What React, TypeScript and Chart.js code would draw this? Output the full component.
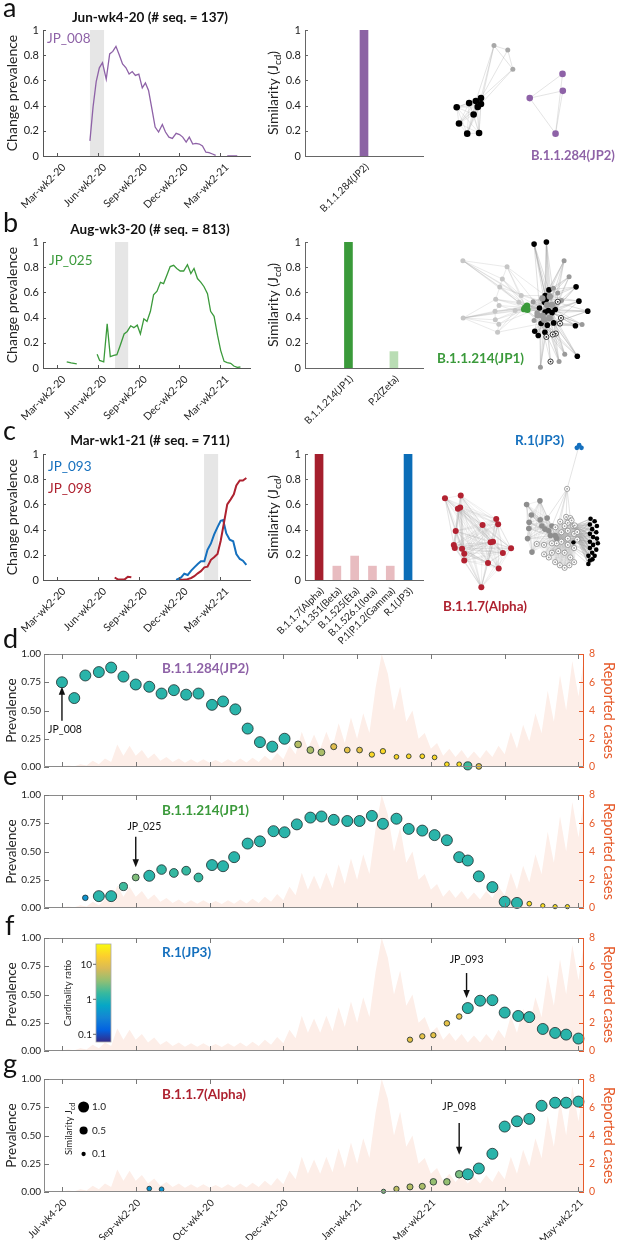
import React, { useEffect, useRef } from "react";
import { Chart, registerables } from "chart.js";

Chart.register(...registerables);

const FONT = "Lato, 'Open Sans', 'DejaVu Sans', sans-serif";
Chart.defaults.font.family = FONT;
Chart.defaults.color = "#222";

const PURPLE = "#8E62A7";
const GREEN = "#3B9A3B";
const BLUE = "#1570BE";
const RED = "#AE2230";
const ORANGE = "#E65A2A";
const CASE_FILL = "#FDEEE8";

// ---------------- panels a-c : change prevalence ----------------
const LINE_TICK_WEEKS = [0, 13, 26, 39, 52];
const LINE_TICK_LABELS = ["Mar-wk2-20", "Jun-wk2-20", "Sep-wk2-20", "Dec-wk2-20", "Mar-wk2-21"];
const LINE_X_MIN = -4.47;
const LINE_X_MAX = 61.56;

const A_WEEKS = [10.5, 11.5, 12.5, 13.5, 14.5, 15.7, 16.8, 17.8, 18.8, 19.9, 20.9, 22, 23, 24, 25, 26.1, 27.2, 28.2, 29.2, 30.3, 31.3, 32.4, 33.6, 34.6, 35.7, 36.8, 38, 39.1, 40.1, 41.2, 42.2, 43.3, 44.3, 45.4, 46.4, 47.5, 48.5, 49.6, 50.6, 52.5, 54.3, 55.5, 57.5];
const A_JP008 = [0.12, 0.39, 0.59, 0.7, 0.74, 0.61, 0.81, 0.83, 0.87, 0.8, 0.73, 0.7, 0.65, 0.67, 0.64, 0.65, 0.54, 0.58, 0.52, 0.37, 0.23, 0.19, 0.25, 0.19, 0.15, 0.14, 0.18, 0.17, 0.15, 0.11, 0.15, 0.095, 0.1, 0.095, 0.08, 0.03, 0.026, 0.016, 0.005, null, 0, 0, 0];
const A_BAND = [10.5, 15.0];

const B_WEEKS = [3.1, 4.5, 6.3, 9.5, 12.8, 13.6, 14.9, 16, 17, 18.1, 19.1, 20.1, 21.4, 22.4, 23.5, 24.5, 25.6, 26.6, 27.7, 28.7, 29.8, 30.8, 31.9, 33, 34, 35.1, 36.1, 37.2, 38.2, 39.3, 40.4, 41.6, 42.7, 43.7, 44.8, 45.9, 46.9, 48, 49, 50.1, 51.2, 52.2, 53.3, 54.3, 55.4, 56.4, 57.5, 58.5];
const B_JP025 = [0.048, 0.04, 0.032, null, 0.11, 0.06, 0.048, 0.35, 0.09, 0.1, 0.106, 0.175, 0.27, 0.29, 0.335, 0.32, 0.34, 0.27, 0.39, 0.37, 0.45, 0.58, 0.61, 0.68, 0.67, 0.74, 0.805, 0.815, 0.79, 0.77, 0.77, 0.82, 0.75, 0.79, 0.71, 0.68, 0.645, 0.59, 0.45, 0.41, 0.26, 0.14, 0.053, 0.043, 0.037, 0.016, 0.005, 0.008];
const B_BAND = [18.5, 22.7];

const C093_WEEKS = [38, 39.6, 40.6, 41.7, 42.8, 43.8, 44.9, 45.9, 47, 48, 49.1, 50.1, 51.2, 52.2, 53, 54, 55.1, 56.2, 57.2, 58.3, 59.3, 60.4];
const C_JP093 = [0, 0.02, 0.05, 0.04, 0.074, 0.1, 0.127, 0.148, 0.148, 0.24, 0.29, 0.36, 0.42, 0.47, 0.476, 0.37, 0.32, 0.307, 0.206, 0.167, 0.153, 0.12];
const C098_WEEKS = [18.4, 19.5, 20.5, 21.6, 22.6, 23.7, 30, 39, 41.2, 42.8, 43.8, 44.9, 45.9, 47, 48, 49.1, 50.1, 51.2, 52.2, 53.3, 54.3, 55.4, 56.4, 57.2, 58.3, 59.3, 60.4];
const C_JP098 = [0.02, 0.003, 0.003, 0.005, 0.026, 0.021, null, 0, 0.003, 0.016, 0.03, 0.053, 0.07, 0.1, 0.106, 0.16, 0.18, 0.206, 0.31, 0.46, 0.6, 0.64, 0.68, 0.75, 0.79, 0.79, 0.81];
const C_BAND = [46.9, 51.4];

// ---------------- similarity bars ----------------
const A_BAR_LABELS = ["B.1.1.284(JP2)"];
const A_BAR_VALUES = [1];
const A_BAR_COLORS = ["#8C63A4"];
const B_BAR_LABELS = ["B.1.1.214(JP1)", "P.2(Zeta)"];
const B_BAR_VALUES = [1, 0.13];
const B_BAR_COLORS = ["#3A9A3A", "#B9DDB4"];
const C_BAR_LABELS = ["B.1.1.7(Alpha)", "B.1.351(Beta)", "B.1.525(Eta)", "B.1.526.1(Iota)", "P.1|P.1.2(Gamma)", "R.1(JP3)"];
const C_BAR_VALUES = [1, 0.11, 0.19, 0.11, 0.11, 1];
const C_BAR_COLORS = ["#A51F2D", "#E8BCC0", "#E8BCC0", "#E8BCC0", "#E8BCC0", "#0B6DB7"];

// ---------------- networks (node layouts, page px) ----------------
const A_NET_BLACK = [[478.7, 98], [473.3, 101], [478.7, 104.3], [475.3, 107.3], [466.3, 103.3], [453.3, 107.7], [471, 115.3], [455.7, 125], [464.3, 135.7], [476.7, 135]];
const A_NET_GREY = [[492.3, 42.3], [506.7, 47], [512, 67.3]];
const A_NET_PURPLE = [[564, 72.3], [564.3, 90.3], [529.7, 98], [556.7, 135.7]];

const B_NET_CORE = [[546, 295], [547.3, 299], [545.3, 302.3], [549.3, 311], [546, 312.7], [553.3, 313.3], [540, 308.3], [556.7, 310], [541.7, 325], [548.3, 326.7], [550, 289], [555, 324.3]];
const B_NET_GREEN = [[525, 307.7], [526.8, 306], [523.8, 309.6], [527.2, 310.2]];
const B_NET_CORE_GREY = [[543.3, 316.7], [550.7, 319], [545, 321], [553.3, 305], [538, 316], [548, 305], [551, 296], [543, 298]];
const B_NET_LIGHT = [[459, 257.7], [505.7, 264.3], [500.7, 277.3], [498, 286], [493.7, 299], [497.3, 305.7], [493, 311.7], [493.3, 321], [497, 325.7], [495.7, 334.3], [459.3, 319], [520.7, 295], [518.3, 302.3], [514.3, 311]];
const B_NET_BLACK = [[534.3, 240], [547.3, 237.7], [578.7, 285.7], [581.7, 301], [591, 311.7], [578, 327.3], [580, 360], [535, 333.3], [538.7, 337.7], [545.7, 334.3]];
const B_NET_GREY = [[566, 257.7], [571.3, 275], [554.7, 287.3], [559.3, 292.3], [563.3, 300.3], [533.3, 301.7], [537.3, 313.3], [534.3, 321.7], [585, 326], [566.7, 357.7], [560.7, 365.7], [541, 371.7]];
const B_NET_RING = [[559.3, 301.7], [562.7, 319], [561.7, 325], [557.3, 335.7], [554, 336.7], [547.3, 339.3], [551.7, 365.7]];

const C_NET_RED = [[440.7, 497.3], [457.3, 494.3], [454.3, 508.3], [456.7, 507], [494.7, 519.3], [496.7, 524.7], [480.3, 525.7], [452, 532], [488.7, 544], [491.3, 543.3], [450, 546.7], [451, 550], [458.7, 550.7], [461, 556], [510.3, 550.3], [501.7, 555.3], [461, 563.3], [486, 566], [497.3, 571.7], [479, 591.7]];
const C_NET_GREY = [[526.7, 504], [540.7, 500], [531.7, 515], [529.3, 522.7], [529, 529.3], [527.7, 540], [532.3, 554.3], [541, 520], [548.3, 518.3], [542.7, 526.7], [546, 530], [550, 531.7], [553.3, 526.7], [556.7, 536.7], [551.7, 536.7], [558.3, 540]];
const C_NET_RING = [[568.3, 517], [572.7, 518.3], [570, 523.3], [575.7, 526.7], [566.7, 526.7], [563.3, 533.3], [570, 531.7], [576.7, 535], [558.3, 545], [563.3, 543.3], [570, 540], [553.3, 545], [545, 546.7], [537.3, 545.7], [545, 556.7], [550, 560], [556.7, 565], [561.7, 568.3], [566.7, 571], [571.7, 568.3], [576.7, 565], [572.7, 560], [566.7, 555], [560, 553.3], [553.3, 555], [570, 546.7], [576.7, 550], [574, 520.7], [577.3, 526], [580, 533], [580, 541], [562, 522], [557, 528]];
const C_NET_TOP = [[569.3, 487.3]];
const C_NET_BLACK = [[594, 519], [598.3, 521.7], [593.3, 525], [600.7, 526.7], [595.7, 530], [593.3, 535], [600, 533.3], [596.7, 538.3], [593.3, 543.3], [600.7, 540], [596.7, 546.7], [601.7, 545], [593.3, 550], [600, 551.7], [595.7, 555], [591.7, 558.3], [598.3, 558.3], [593.3, 563.3], [591.7, 567], [596, 562]];
const C_NET_BLACK1 = [[576, 544]];
const C_NET_BLUE = [[582, 441], [579.6, 443.8], [584.4, 443.8]];

// ---------------- panels d-g ----------------
const PANEL_TICK_WEEKS = [0, 6, 12, 18, 24, 30, 36, 42];
const PANEL_TICK_LABELS = ["Jul-wk4-20", "Sep-wk2-20", "Oct-wk4-20", "Dec-wk1-20", "Jan-wk4-21", "Mar-wk2-21", "Apr-wk4-21", "May-wk2-21"];
const PANEL_X_MIN = -1.46;
const PANEL_X_MAX = 42.45;

// reported cases (background area, right axis)
const CASE_WEEKS = [-1.5, -1, -0.5, 0, 0.5, 1, 1.5, 2, 2.5, 3, 3.5, 4, 4.5, 5, 5.5, 6, 6.5, 7, 7.5, 8, 8.5, 9, 9.5, 10, 10.5, 11, 11.5, 12, 12.5, 13, 13.5, 14, 14.5, 15, 15.5, 16, 16.5, 17, 17.5, 18, 18.5, 19, 19.5, 20, 20.5, 21, 21.5, 22, 22.5, 23, 23.5, 24, 24.5, 25, 25.5, 26, 26.5, 27, 27.5, 28, 28.5, 29, 29.5, 30, 30.5, 31, 31.5, 32, 32.5, 33, 33.5, 34, 34.5, 35, 35.5, 36, 36.5, 37, 37.5, 38, 38.5, 39, 39.5, 40, 40.5, 41, 41.5, 42, 42.5];
const CASE_VALUES = [0, 0, 0.03, 0.06, 0.1, 0.05, 0.2, 0.1, 0.45, 0.2, 0.6, 0.35, 1.6, 0.8, 1.5, 0.8, 1.2, 0.6, 0.95, 0.45, 0.7, 0.35, 0.6, 0.3, 0.55, 0.3, 0.55, 0.3, 0.5, 0.28, 0.55, 0.3, 0.6, 0.32, 0.65, 0.35, 0.8, 0.45, 1.0, 0.55, 1.5, 0.9, 2.5, 1.3, 2.3, 1.3, 2.5, 1.4, 3.1, 1.7, 3.5, 2.0, 3.8, 2.4, 5.6, 8.0, 6.6, 4.0, 5.7, 3.2, 4.0, 2.0, 2.4, 1.3, 1.7, 0.8, 1.3, 0.7, 1.2, 0.6, 1.1, 0.6, 1.2, 0.7, 1.5, 0.9, 2.5, 1.3, 3.0, 1.8, 3.8, 2.4, 5.4, 3.2, 6.5, 4.0, 7.5, 5.0, 8.0];

const D_WEEKS = [0, 1, 1.9, 3, 4, 5, 6, 7.1, 8.1, 9.1, 10.1, 11.1, 12.2, 13.1, 14.1, 15.1, 16.1, 17.1, 18.1, 19.2, 20.2, 21.1, 22.1, 23.2, 24.2, 25.2, 26.1, 27.2, 28.2, 29.3, 30.3, 31.3, 32.3, 33, 33.9];
const D_PREV = [0.75, 0.61, 0.81, 0.84, 0.88, 0.8, 0.73, 0.71, 0.65, 0.68, 0.64, 0.65, 0.55, 0.58, 0.51, 0.34, 0.22, 0.18, 0.25, 0.2, 0.15, 0.13, 0.18, 0.15, 0.15, 0.11, 0.14, 0.09, 0.095, 0.095, 0.085, 0.024, 0.024, 0.01, 0.005];
const D_SIM = [1, 1, 1, 1, 1, 1, 1, 1, 1, 1, 1, 1, 1, 1, 1, 1, 1, 1, 1, 0.33, 0.33, 0.33, 0.25, 0.22, 0.22, 0.18, 0.18, 0.13, 0.13, 0.13, 0.13, 0.13, 0.13, 0.5, 0.22];
const D_CARD = [1.2, 1.2, 1.2, 1.2, 1.2, 1.2, 1.2, 1.2, 1.2, 1.2, 1.2, 1.2, 1.2, 1.2, 1.2, 1.2, 1.2, 1.2, 1.2, 5, 4.5, 4.5, 9, 10, 10, 20, 20, 20, 20, 20, 20, 22, 22, 1.6, 10];

const E_WEEKS = [1.9, 3, 4, 5, 6, 7.1, 8.1, 9.1, 10.1, 11.1, 12.2, 13.1, 14, 15.1, 16.1, 17.2, 18.1, 19.1, 20.2, 21.1, 22.1, 23.2, 24.2, 25.2, 26.1, 27.2, 28.2, 29.3, 30.3, 31.3, 32.3, 33, 33.9, 35, 36, 37, 38, 39.1, 40.1, 41.1];
const E_PREV = [0.09, 0.105, 0.105, 0.19, 0.27, 0.285, 0.34, 0.31, 0.33, 0.27, 0.38, 0.37, 0.45, 0.57, 0.59, 0.68, 0.67, 0.74, 0.8, 0.81, 0.78, 0.77, 0.77, 0.815, 0.745, 0.79, 0.7, 0.685, 0.645, 0.6, 0.45, 0.42, 0.28, 0.185, 0.055, 0.045, 0.038, 0.02, 0.012, 0.012];
const E_SIM = [0.2, 1, 1, 0.5, 0.33, 1, 0.73, 0.6, 0.6, 0.6, 1, 1, 1, 1, 1, 1, 1, 1, 1, 1, 1, 1, 1, 1, 1, 1, 1, 1, 1, 1, 1, 1, 1, 1, 1, 1, 0.13, 0.1, 0.1, 0.1];
const E_CARD = [0.42, 1.2, 1.2, 1.6, 2.9, 1.2, 1.35, 1.45, 1.45, 1.45, 1.2, 1.2, 1.2, 1.2, 1.2, 1.2, 1.2, 1.2, 1.2, 1.2, 1.2, 1.2, 1.2, 1.2, 1.2, 1.2, 1.2, 1.2, 1.2, 1.2, 1.2, 1.2, 1.2, 1.2, 1.2, 1.2, 22, 22, 22, 22];

const F_WEEKS = [28.3, 29.3, 30.2, 31.3, 32.3, 33, 34, 35, 36, 37.1, 38, 39.1, 40.1, 41, 42];
const F_PREV = [0.1, 0.13, 0.14, 0.245, 0.305, 0.38, 0.445, 0.45, 0.34, 0.31, 0.3, 0.195, 0.16, 0.145, 0.11];
const F_SIM = [0.18, 0.18, 0.18, 0.2, 0.2, 1, 1, 1, 1, 1, 1, 1, 1, 1, 1];
const F_CARD = [10, 10, 10, 10, 10, 1.2, 1.2, 1.2, 1.2, 1.2, 1.2, 1.2, 1.2, 1.2, 1.2];

const G_WEEKS = [7.1, 8.1, 26.15, 27.2, 28.3, 29.3, 30.2, 31.3, 32.3, 33, 33.9, 35, 36, 37, 38, 39, 40.1, 41, 42];
const G_PREV = [0.03, 0.024, 0.006, 0.027, 0.045, 0.05, 0.09, 0.09, 0.157, 0.157, 0.208, 0.338, 0.579, 0.626, 0.647, 0.763, 0.79, 0.79, 0.8];
const G_SIM = [0.13, 0.13, 0.1, 0.18, 0.25, 0.25, 0.3, 0.3, 0.42, 1, 1, 1, 1, 1, 1, 1, 1, 1, 1];
const G_CARD = [0.42, 0.42, 2.9, 5.5, 5, 4.5, 3.5, 3.5, 2.7, 1.2, 1.2, 1.2, 1.2, 1.2, 1.2, 1.2, 1.2, 1.2, 1.2];

const D_ARROW = { week: 0, from: 0.41, to: 0.71, label: "JP_008", labelWeek: 0.25, labelY: 0.33 };
const E_ARROW = { week: 6.0, from: 0.63, to: 0.36, label: "JP_025", labelWeek: 6.7, labelY: 0.72 };
const F_ARROW = { week: 32.9, from: 0.69, to: 0.47, label: "JP_093", labelWeek: 32.9, labelY: 0.81 };
const G_ARROW = { week: 32.3, from: 0.61, to: 0.33, label: "JP_098", labelWeek: 32.3, labelY: 0.76 };

const CB_TICKS = [0.1, 1, 10];
const CB_TICK_LABELS = ["0.1", "1", "10"];
const CB_LOG_MIN = -1.22;
const CB_LOG_MAX = 1.58;
const SIZE_LEGEND = [1.0, 0.5, 0.1];
const SIZE_LEGEND_LABELS = ["1.0", "0.5", "0.1"];

// ---------------- helpers ----------------
const PARULA = ["#352A87", "#0363E1", "#1485D4", "#06A7C6", "#38B99E", "#92BF73", "#D9BA56", "#FCCE2E", "#F9FB0E"];
function hexRgb(h: string) {
  return [parseInt(h.slice(1, 3), 16), parseInt(h.slice(3, 5), 16), parseInt(h.slice(5, 7), 16)];
}
function parula(t: number) {
  const c = Math.max(0, Math.min(1, t)) * (PARULA.length - 1);
  const i = Math.min(PARULA.length - 2, Math.floor(c));
  const f = c - i;
  const a = hexRgb(PARULA[i]);
  const b = hexRgb(PARULA[i + 1]);
  const m = a.map((v, k) => Math.round(v + (b[k] - v) * f));
  return `rgb(${m[0]},${m[1]},${m[2]})`;
}
const cardColor = (c: number) => parula((Math.log10(c) - CB_LOG_MIN) / (CB_LOG_MAX - CB_LOG_MIN));
const simRadius = (j: number) => 0.6 + 4.9 * Math.sqrt(j);

const fixW = (w: number) => (s: any) => {
  s.width = w;
  s.paddingTop = 0;
  s.paddingBottom = 0;
};
const fixH = (h: number) => (s: any) => {
  s.height = h;
  s.paddingLeft = 0;
  s.paddingRight = 0;
};
const fmtFrac = (v: any) => (Number(v) === 0 ? "0" : Number(v) === 1 ? "1" : Number(v).toFixed(1));

function insideTicks(chart: any, specs: any[], len: number) {
  const { ctx, chartArea: a, scales } = chart;
  ctx.save();
  ctx.lineWidth = 1;
  for (const s of specs) {
    const sc = scales[s.id];
    ctx.strokeStyle = s.color;
    for (const t of sc.ticks) {
      const p = Math.round(sc.getPixelForValue(t.value)) + 0.5;
      ctx.beginPath();
      if (s.side === "bottom") {
        ctx.moveTo(p, a.bottom);
        ctx.lineTo(p, a.bottom - len);
      } else if (s.side === "top") {
        ctx.moveTo(p, a.top);
        ctx.lineTo(p, a.top + len);
      } else if (s.side === "left") {
        ctx.moveTo(a.left, p);
        ctx.lineTo(a.left + len, p);
      } else {
        ctx.moveTo(a.right, p);
        ctx.lineTo(a.right - len, p);
      }
      ctx.stroke();
    }
  }
  ctx.restore();
}

function drawSubText(ctx: any, cx: number, cy: number, t1: string, t2: string, t3: string, size: number, color: string) {
  ctx.save();
  ctx.translate(cx, cy);
  ctx.rotate(-Math.PI / 2);
  ctx.fillStyle = color;
  ctx.textAlign = "left";
  ctx.textBaseline = "alphabetic";
  const f1 = `${size}px ${FONT}`;
  const f2 = `${Math.round(size * 0.72)}px ${FONT}`;
  ctx.font = f1;
  const w1 = ctx.measureText(t1).width;
  const w3 = ctx.measureText(t3).width;
  ctx.font = f2;
  const w2 = ctx.measureText(t2).width;
  let x = -(w1 + w2 + w3) / 2;
  const base = size * 0.36;
  ctx.font = f1;
  ctx.fillText(t1, x, base);
  x += w1;
  ctx.font = f2;
  ctx.fillText(t2, x, base + size * 0.22);
  x += w2;
  ctx.font = f1;
  ctx.fillText(t3, x, base);
  ctx.restore();
}

function lineExtras(band: number[]) {
  return {
    id: "lineExtras",
    beforeDatasetsDraw(chart: any) {
      const { ctx, chartArea: a, scales } = chart;
      const x0 = scales.x.getPixelForValue(band[0]);
      const x1 = scales.x.getPixelForValue(band[1]);
      ctx.save();
      ctx.fillStyle = "#E6E6E6";
      ctx.fillRect(x0, a.top, x1 - x0, a.bottom - a.top);
      ctx.restore();
    },
    afterDraw(chart: any) {
      insideTicks(chart, [{ id: "x", side: "bottom", color: "#555" }, { id: "y", side: "left", color: "#555" }], 3);
    },
  };
}

function lineChartConfig(series: any[], band: number[]) {
  return {
    type: "line",
    data: {
      datasets: series.map((s) => ({
        data: s.weeks.map((w: number, i: number) => ({ x: w, y: s.values[i] })),
        borderColor: s.color,
        borderWidth: s.width,
        pointRadius: 0,
        tension: 0,
        spanGaps: false,
        fill: false,
      })),
    },
    options: {
      responsive: false,
      animation: false,
      events: [],
      layout: { padding: { top: 30, right: 12, left: 0, bottom: 0 } },
      plugins: { legend: { display: false }, tooltip: { enabled: false } },
      scales: {
        x: {
          type: "linear",
          min: LINE_X_MIN,
          max: LINE_X_MAX,
          afterBuildTicks: (s: any) => {
            s.ticks = LINE_TICK_WEEKS.map((v) => ({ value: v }));
          },
          afterFit: fixH(59),
          grid: { display: false, drawTicks: false },
          border: { display: true, color: "#555" },
          ticks: { autoSkip: false, minRotation: 45, maxRotation: 45, padding: 5, labelOffset: 7, font: { size: 10.5 }, color: "#222", callback: (_v: any, i: number) => LINE_TICK_LABELS[i] },
        },
        y: {
          type: "linear",
          min: 0,
          max: 1,
          afterFit: fixW(43),
          grid: { display: false, drawTicks: false },
          border: { display: true, color: "#555" },
          ticks: { stepSize: 0.2, padding: 4, font: { size: 11 }, color: "#222", callback: fmtFrac },
          title: { display: true, text: "Change prevalence", font: { size: 14 }, color: "#222", padding: { top: 4, bottom: 0 } },
        },
      },
    },
    plugins: [lineExtras(band)],
  };
}

function barChartConfig(labels: string[], values: number[], colors: string[], xmin: number, xmax: number, axisH: number) {
  return {
    type: "bar",
    data: {
      datasets: [
        {
          data: values.map((v, i) => ({ x: i + 1, y: v })),
          backgroundColor: colors,
          borderWidth: 0,
          barThickness: 8,
        },
      ],
    },
    options: {
      responsive: false,
      animation: false,
      events: [],
      layout: { padding: { top: 30, right: 9, left: 0, bottom: 0 } },
      plugins: { legend: { display: false }, tooltip: { enabled: false } },
      scales: {
        x: {
          type: "linear",
          offset: false,
          min: xmin,
          max: xmax,
          afterBuildTicks: (s: any) => {
            s.ticks = labels.map((_l, i) => ({ value: i + 1 }));
          },
          afterFit: fixH(axisH),
          grid: { display: false, drawTicks: false },
          border: { display: true, color: "#666" },
          ticks: { autoSkip: false, minRotation: 45, maxRotation: 45, padding: 5, labelOffset: 3, font: { size: 10 }, color: "#222", callback: (_v: any, i: number) => labels[i] },
        },
        y: {
          type: "linear",
          min: 0,
          max: 1,
          afterFit: fixW(43),
          grid: { display: false, drawTicks: false },
          border: { display: true, color: "#666" },
          ticks: { stepSize: 0.2, padding: 4, font: { size: 11 }, color: "#222", callback: fmtFrac },
        },
      },
    },
    plugins: [
      {
        id: "barExtras",
        afterDraw(chart: any) {
          insideTicks(chart, [{ id: "y", side: "left", color: "#666" }], 3);
          const a = chart.chartArea;
          drawSubText(chart.ctx, 11, (a.top + a.bottom) / 2, "Similarity (J", "cd", ")", 14, "#222");
        },
      },
    ],
  };
}

function netConfig(net: any) {
  const datasets: any[] = [];
  net.groups.forEach((g: any, gi: number) => {
    datasets.push({
      data: g.pts.map((p: number[]) => ({ x: p[0], y: p[1] })),
      pointRadius: g.r,
      pointBackgroundColor: g.fill,
      pointBorderColor: g.stroke || g.fill,
      pointBorderWidth: g.bw || 0,
      showLine: false,
      order: -gi * 2,
    });
    if (g.dot) {
      datasets.push({
        data: g.pts.map((p: number[]) => ({ x: p[0], y: p[1] })),
        pointRadius: 0.9,
        pointBackgroundColor: g.dot,
        pointBorderWidth: 0,
        showLine: false,
        order: -gi * 2 - 1,
      });
    }
  });
  return {
    type: "scatter",
    data: { datasets },
    options: {
      responsive: false,
      animation: false,
      events: [],
      layout: { padding: 0 },
      plugins: { legend: { display: false }, tooltip: { enabled: false } },
      scales: {
        x: { type: "linear", display: false, min: net.box[0], max: net.box[1] },
        y: { type: "linear", display: false, min: net.box[2], max: net.box[3], reverse: true },
      },
    },
    plugins: [
      {
        id: "netEdges",
        beforeDatasetsDraw(chart: any) {
          const { ctx, scales } = chart;
          const P = (p: number[]) => [scales.x.getPixelForValue(p[0]), scales.y.getPixelForValue(p[1])];
          const hubs: number[][] = [];
          net.hubSource.forEach((gi: number) => net.groups[gi].pts.forEach((p: number[]) => hubs.push(p)));
          const seg = (p: number[], q: number[]) => {
            const a = P(p);
            const b = P(q);
            ctx.beginPath();
            ctx.moveTo(a[0], a[1]);
            ctx.lineTo(b[0], b[1]);
            ctx.stroke();
          };
          ctx.save();
          ctx.lineWidth = 0.6;
          net.groups.forEach((g: any) => {
            ctx.strokeStyle = `rgba(165,165,165,${g.edgeAlpha ?? 0.5})`;
            if (g.complete) {
              for (let i = 0; i < g.pts.length; i++) for (let j = i + 1; j < g.pts.length; j++) seg(g.pts[i], g.pts[j]);
            }
            if (g.pairs) g.pairs.forEach((pr: number[]) => seg(g.pts[pr[0]], g.pts[pr[1]]));
            if (g.links) g.links.forEach((ls: number[], i: number) => ls.forEach((h) => seg(g.pts[i], hubs[h])));
          });
          ctx.restore();
        },
      },
    ],
  };
}

const NET_A = {
  box: [440, 621, 30, 170],
  hubSource: [0],
  groups: [
    { pts: A_NET_BLACK, r: 3.3, fill: "#000", complete: true, edgeAlpha: 0.4 },
    { pts: A_NET_GREY, r: 2.5, fill: "#A8A8A8", pairs: [[0, 1], [1, 2], [0, 2]], links: [[0, 1, 2], [0], [0, 2]] },
    { pts: A_NET_PURPLE, r: 3.3, fill: PURPLE, pairs: [[2, 0], [2, 1], [2, 3], [0, 3], [1, 3]] },
  ],
};

const NET_B = {
  box: [440, 621, 228, 378],
  hubSource: [0, 1],
  groups: [
    { pts: B_NET_CORE, r: 2.8, fill: "#000", complete: true, edgeAlpha: 0.45 },
    { pts: B_NET_GREEN, r: 3.2, fill: GREEN, links: [[6, 2, 4, 0, 8, 1], [6, 2, 4, 0, 3], [6, 2, 4, 8, 9], [6, 2, 0, 3, 5]] },
    { pts: B_NET_CORE_GREY, r: 3.2, fill: "#999", links: [[0, 3, 5, 8, 9], [0, 3, 5, 8, 9], [1, 4, 9, 11], [2, 8, 11, 7], [6, 8, 0], [10, 5, 1], [0, 10, 7], [6, 2, 10]] },
    {
      pts: B_NET_LIGHT,
      r: 2.5,
      fill: "#C6C6C6",
      edgeAlpha: 0.4,
      links: [[12, 13, 6], [12, 0, 6], [12, 13], [12, 2], [12, 6], [12], [12, 14], [12, 15], [12, 6], [12, 8], [12, 13, 14, 6], [12, 0, 2], [12, 6], [12, 15]],
      pairs: [[0, 1], [0, 2], [0, 3], [0, 11], [1, 2], [2, 3], [3, 4], [4, 5], [5, 6], [6, 7], [7, 8], [8, 9], [10, 4], [10, 6], [10, 7], [10, 8], [10, 9], [1, 11], [2, 11], [3, 12], [4, 12], [5, 13], [9, 13]],
    },
    { pts: B_NET_BLACK, r: 2.8, fill: "#000", edgeAlpha: 0.6, links: [[0, 1, 2, 10, 3, 5, 6], [0, 1, 10, 3, 5, 7, 2], [0, 3, 5, 7, 10, 1], [5, 7, 11, 3, 1, 0], [5, 7, 11, 9, 3, 1], [11, 9, 5, 7, 3], [9, 11, 8, 4, 5, 3], [8, 4, 6, 9], [8, 9, 4, 6], [9, 8, 4, 3]] },
    { pts: B_NET_GREY, r: 2.5, fill: "#9A9A9A", edgeAlpha: 0.6, links: [[0, 10, 3, 5, 1, 7], [0, 10, 5, 7, 1], [0, 10, 1], [10, 7, 1], [7, 5, 3], [6, 2], [6, 4], [6, 8], [11, 7, 9, 5, 3], [9, 11, 8, 4, 5], [9, 8, 4, 11, 3], [8, 9, 4, 3, 6]] },
    { pts: B_NET_RING, r: 2.6, fill: "#fff", stroke: "#222", bw: 0.9, dot: "#222", links: [[5, 7], [11, 5], [11, 9], [9, 11], [9, 8], [8, 9], [9, 8, 4]] },
  ],
};

const NET_C = {
  box: [430, 621, 430, 600],
  hubSource: [1, 2, 3],
  groups: [
    { pts: C_NET_RED, r: 3, fill: "#B22231", complete: true, edgeAlpha: 0.28 },
    { pts: C_NET_GREY, r: 2.8, fill: "#8E8E8E", complete: true, edgeAlpha: 0.3 },
    { pts: C_NET_RING, r: 2.6, fill: "#fff", stroke: "#8a8a8a", bw: 0.8, dot: "#9a9a9a", complete: true, edgeAlpha: 0.12, links: C_NET_RING.map(() => [13, 15]) },
    { pts: C_NET_TOP, r: 2.6, fill: "#fff", stroke: "#8a8a8a", bw: 0.8, dot: "#9a9a9a", links: [[8, 12, 13, 15, 16, 17]] },
    { pts: C_NET_BLACK, r: 2.3, fill: "#000", links: C_NET_BLACK.map(() => [23, 19, 44, 46, 13]) },
    { pts: C_NET_BLACK1, r: 2.2, fill: "#000", links: [[23, 26, 13]] },
    { pts: C_NET_BLUE, r: 2.4, fill: BLUE, links: [[49], [], []] },
  ],
};

function bubbleExtras(p: any) {
  return {
    id: "bubbleExtras",
    afterDatasetsDraw(chart: any) {
      const { ctx, chartArea: a, scales } = chart;
      const L = Math.round(a.left) + 0.5;
      const R = Math.round(a.right) - 0.5;
      const T = Math.round(a.top) + 0.5;
      const B = Math.round(a.bottom) - 0.5;
      ctx.save();
      ctx.lineWidth = 1;
      ctx.strokeStyle = "#8a8a8a";
      ctx.beginPath();
      ctx.moveTo(R, T);
      ctx.lineTo(L, T);
      ctx.lineTo(L, B);
      ctx.lineTo(R, B);
      ctx.stroke();
      ctx.strokeStyle = ORANGE;
      ctx.beginPath();
      ctx.moveTo(R, T);
      ctx.lineTo(R, B);
      ctx.stroke();
      ctx.restore();
      insideTicks(
        chart,
        [
          { id: "x", side: "bottom", color: "#777" },
          { id: "x", side: "top", color: "#777" },
          { id: "y", side: "left", color: "#777" },
          { id: "y1", side: "right", color: ORANGE },
        ],
        5
      );
      // arrow + label
      const ar = p.arrow;
      const xp = scales.x.getPixelForValue(ar.week);
      const y0 = scales.y.getPixelForValue(ar.from);
      const y1 = scales.y.getPixelForValue(ar.to);
      const dir = Math.sign(y1 - y0);
      ctx.save();
      ctx.strokeStyle = "#111";
      ctx.fillStyle = "#111";
      ctx.lineWidth = 1.4;
      ctx.beginPath();
      ctx.moveTo(xp, y0);
      ctx.lineTo(xp, y1 - dir * 6);
      ctx.stroke();
      ctx.beginPath();
      ctx.moveTo(xp, y1);
      ctx.lineTo(xp - 3.2, y1 - dir * 8);
      ctx.lineTo(xp + 3.2, y1 - dir * 8);
      ctx.closePath();
      ctx.fill();
      ctx.font = `10.5px ${FONT}`;
      ctx.textAlign = "center";
      ctx.textBaseline = "middle";
      ctx.fillText(ar.label, scales.x.getPixelForValue(ar.labelWeek), scales.y.getPixelForValue(ar.labelY));
      ctx.restore();

      if (p.extra === "colorbar") {
        const cl = a.left + 52;
        const ct = a.top + 6;
        const cw = 15;
        const chh = 98;
        ctx.save();
        const g = ctx.createLinearGradient(0, ct + chh, 0, ct);
        PARULA.forEach((c, i) => g.addColorStop(i / (PARULA.length - 1), c));
        ctx.fillStyle = g;
        ctx.fillRect(cl, ct, cw, chh);
        ctx.strokeStyle = "#aaa";
        ctx.lineWidth = 0.8;
        ctx.strokeRect(cl, ct, cw, chh);
        ctx.fillStyle = "#222";
        ctx.strokeStyle = "#444";
        ctx.font = `10px ${FONT}`;
        ctx.textAlign = "right";
        ctx.textBaseline = "middle";
        CB_TICKS.forEach((v, i) => {
          const yy = ct + chh - ((Math.log10(v) - CB_LOG_MIN) / (CB_LOG_MAX - CB_LOG_MIN)) * chh;
          ctx.beginPath();
          ctx.moveTo(cl - 3, yy);
          ctx.lineTo(cl, yy);
          ctx.stroke();
          ctx.fillText(CB_TICK_LABELS[i], cl - 4, yy);
        });
        ctx.restore();
        drawSubText(ctx, cl - 28, ct + chh / 2, "Cardinality ratio", "", "", 9.5, "#222");
      }
      if (p.extra === "sizes") {
        ctx.save();
        ctx.font = `10px ${FONT}`;
        ctx.textAlign = "left";
        ctx.textBaseline = "middle";
        SIZE_LEGEND.forEach((j, i) => {
          const cy = a.top + 28 + i * 23.5;
          const cx = a.left + 39.6;
          ctx.fillStyle = "#000";
          ctx.beginPath();
          ctx.arc(cx, cy, simRadius(j), 0, Math.PI * 2);
          ctx.fill();
          ctx.fillStyle = "#222";
          ctx.fillText(SIZE_LEGEND_LABELS[i], a.left + 48, cy);
        });
        ctx.restore();
        drawSubText(ctx, a.left + 25, a.top + 50, "Similarity J", "cd", "", 9.5, "#222");
      }
    },
  };
}

function panelConfig(p: any, showX: boolean) {
  return {
    type: "bubble",
    data: {
      datasets: [
        {
          type: "bubble",
          data: p.weeks.map((w: number, i: number) => ({ x: w, y: p.prev[i], r: simRadius(p.sim[i]) })),
          backgroundColor: p.card.map(cardColor),
          borderColor: "#1b2b2b",
          borderWidth: 0.8,
          yAxisID: "y",
          order: 0,
          clip: false,
        },
        {
          type: "line",
          data: CASE_WEEKS.map((w, i) => ({ x: w, y: CASE_VALUES[i] })),
          yAxisID: "y1",
          fill: "origin",
          backgroundColor: CASE_FILL,
          borderColor: "rgba(0,0,0,0)",
          borderWidth: 0,
          pointRadius: 0,
          tension: 0,
          order: 1,
        },
      ],
    },
    options: {
      responsive: false,
      animation: false,
      events: [],
      layout: { padding: { top: 10, bottom: showX ? 0 : 8, left: 0, right: 0 } },
      plugins: { legend: { display: false }, tooltip: { enabled: false } },
      scales: {
        x: {
          type: "linear",
          min: PANEL_X_MIN,
          max: PANEL_X_MAX,
          afterBuildTicks: (s: any) => {
            s.ticks = PANEL_TICK_WEEKS.map((v) => ({ value: v }));
          },
          afterFit: fixH(showX ? 48 : 0),
          grid: { display: false, drawTicks: false },
          border: { display: false },
          ticks: { display: showX, autoSkip: false, minRotation: 45, maxRotation: 45, padding: 5, labelOffset: 3, font: { size: 10 }, color: "#222", callback: (_v: any, i: number) => PANEL_TICK_LABELS[i] },
        },
        y: {
          type: "linear",
          position: "left",
          min: 0,
          max: 1,
          afterFit: fixW(44),
          grid: { display: false, drawTicks: false },
          border: { display: false },
          ticks: { stepSize: 0.25, padding: 3, font: { size: 10 }, color: "#222", callback: (v: any) => Number(v).toFixed(2) },
          title: { display: true, text: "Prevalence", font: { size: 13.5 }, color: "#222", padding: { top: 4, bottom: 0 } },
        },
        y1: {
          type: "linear",
          position: "right",
          min: 0,
          max: 8,
          afterFit: fixW(37),
          grid: { display: false, drawTicks: false },
          border: { display: false },
          ticks: { stepSize: 2, padding: 5, font: { size: 10.5 }, color: ORANGE },
          title: { display: true, text: "Reported cases", font: { size: 14.5 }, color: ORANGE, padding: { top: 4, bottom: 0 } },
        },
      },
    },
    plugins: [bubbleExtras(p)],
  };
}

const PANEL_D = { weeks: D_WEEKS, prev: D_PREV, sim: D_SIM, card: D_CARD, arrow: D_ARROW, extra: null };
const PANEL_E = { weeks: E_WEEKS, prev: E_PREV, sim: E_SIM, card: E_CARD, arrow: E_ARROW, extra: null };
const PANEL_F = { weeks: F_WEEKS, prev: F_PREV, sim: F_SIM, card: F_CARD, arrow: F_ARROW, extra: "colorbar" };
const PANEL_G = { weeks: G_WEEKS, prev: G_PREV, sim: G_SIM, card: G_CARD, arrow: G_ARROW, extra: "sizes" };

// ---------------- components ----------------
function ChartCanvas(props: { left: number; top: number; width: number; height: number; make: () => any }) {
  const ref = useRef<HTMLCanvasElement | null>(null);
  useEffect(() => {
    const chart = new Chart(ref.current as HTMLCanvasElement, props.make());
    return () => chart.destroy();
  }, []);
  return (
    <canvas
      ref={ref}
      width={props.width}
      height={props.height}
      style={{ position: "absolute", left: props.left, top: props.top, width: props.width, height: props.height }}
    />
  );
}

function Txt(props: { x: number; y: number; size: number; color?: string; bold?: boolean; center?: boolean; children: any }) {
  const { x, y, size, color = "#111", bold = false, center = false } = props;
  return (
    <div
      style={{
        position: "absolute",
        left: x,
        top: y - 0.89 * size,
        fontSize: size,
        lineHeight: 1,
        fontFamily: FONT,
        fontWeight: bold ? 700 : 400,
        color,
        whiteSpace: "nowrap",
        transform: center ? "translateX(-50%)" : undefined,
      }}
    >
      {props.children}
    </div>
  );
}

export default function App() {
  return (
    <div style={{ position: "absolute", left: 0, top: 0, width: 621, height: 1240, background: "#fff", overflow: "hidden", fontFamily: FONT }}>
      {/* a */}
      <ChartCanvas left={0} top={0} width={262} height={215} make={() => lineChartConfig([{ weeks: A_WEEKS, values: A_JP008, color: PURPLE, width: 1.3 }], A_BAND)} />
      <ChartCanvas left={262} top={0} width={170} height={215} make={() => barChartConfig(A_BAR_LABELS, A_BAR_VALUES, A_BAR_COLORS, 0.5, 1.5, 59)} />
      <ChartCanvas left={440} top={30} width={181} height={140} make={() => netConfig(NET_A)} />
      {/* b */}
      <ChartCanvas left={0} top={212} width={262} height={215} make={() => lineChartConfig([{ weeks: B_WEEKS, values: B_JP025, color: GREEN, width: 1.3 }], B_BAND)} />
      <ChartCanvas left={262} top={212} width={170} height={215} make={() => barChartConfig(B_BAR_LABELS, B_BAR_VALUES, B_BAR_COLORS, 0.044, 2.64, 59)} />
      <ChartCanvas left={440} top={228} width={181} height={150} make={() => netConfig(NET_B)} />
      {/* c */}
      <ChartCanvas
        left={0}
        top={424}
        width={262}
        height={215}
        make={() =>
          lineChartConfig(
            [
              { weeks: C098_WEEKS, values: C_JP098, color: RED, width: 2 },
              { weeks: C093_WEEKS, values: C_JP093, color: BLUE, width: 2 },
            ],
            C_BAND
          )
        }
      />
      <ChartCanvas left={262} top={424} width={170} height={230} make={() => barChartConfig(C_BAR_LABELS, C_BAR_VALUES, C_BAR_COLORS, 0.21, 6.84, 74)} />
      <ChartCanvas left={430} top={430} width={191} height={170} make={() => netConfig(NET_C)} />
      {/* d-g */}
      <ChartCanvas left={0} top={644} width={621} height={131} make={() => panelConfig(PANEL_D, false)} />
      <ChartCanvas left={0} top={785} width={621} height={131} make={() => panelConfig(PANEL_E, false)} />
      <ChartCanvas left={0} top={928} width={621} height={131} make={() => panelConfig(PANEL_F, false)} />
      <ChartCanvas left={0} top={1069} width={621} height={171} make={() => panelConfig(PANEL_G, true)} />

      {/* panel letters */}
      <Txt x={3} y={17} size={27}>a</Txt>
      <Txt x={3} y={232} size={27}>b</Txt>
      <Txt x={3} y={440} size={27}>c</Txt>
      <Txt x={3} y={648} size={27}>d</Txt>
      <Txt x={3} y={785} size={27}>e</Txt>
      <Txt x={5} y={935} size={27}>f</Txt>
      <Txt x={3} y={1073} size={27}>g</Txt>

      {/* titles */}
      <Txt x={150} y={23} size={13.5} bold center>Jun-wk4-20 (# seq. = 137)</Txt>
      <Txt x={150} y={235} size={13.5} bold center>Aug-wk3-20 (# seq. = 813)</Txt>
      <Txt x={150} y={446} size={13.5} bold center>Mar-wk1-21 (# seq. = 711)</Txt>

      {/* line legends */}
      <Txt x={47} y={44} size={13.5} color={PURPLE}>JP_008</Txt>
      <Txt x={49} y={266} size={13.5} color={GREEN}>JP_025</Txt>
      <Txt x={48} y={472} size={13.5} color={BLUE}>JP_093</Txt>
      <Txt x={48} y={494} size={13.5} color={RED}>JP_098</Txt>

      {/* network labels */}
      <Txt x={531} y={161} size={13} bold color={PURPLE}>B.1.1.284(JP2)</Txt>
      <Txt x={437} y={364} size={13.5} bold color={GREEN}>B.1.1.214(JP1)</Txt>
      <Txt x={515} y={446} size={13.5} bold color={BLUE}>R.1(JP3)</Txt>
      <Txt x={443} y={612} size={13.5} bold color={RED}>B.1.1.7(Alpha)</Txt>

      {/* d-g lineage titles */}
      <Txt x={162} y={674} size={13.5} bold color={PURPLE}>B.1.1.284(JP2)</Txt>
      <Txt x={162} y={816} size={13.5} bold color={GREEN}>B.1.1.214(JP1)</Txt>
      <Txt x={162} y={958} size={13.5} bold color={BLUE}>R.1(JP3)</Txt>
      <Txt x={162} y={1100} size={13.5} bold color={RED}>B.1.1.7(Alpha)</Txt>
    </div>
  );
}
